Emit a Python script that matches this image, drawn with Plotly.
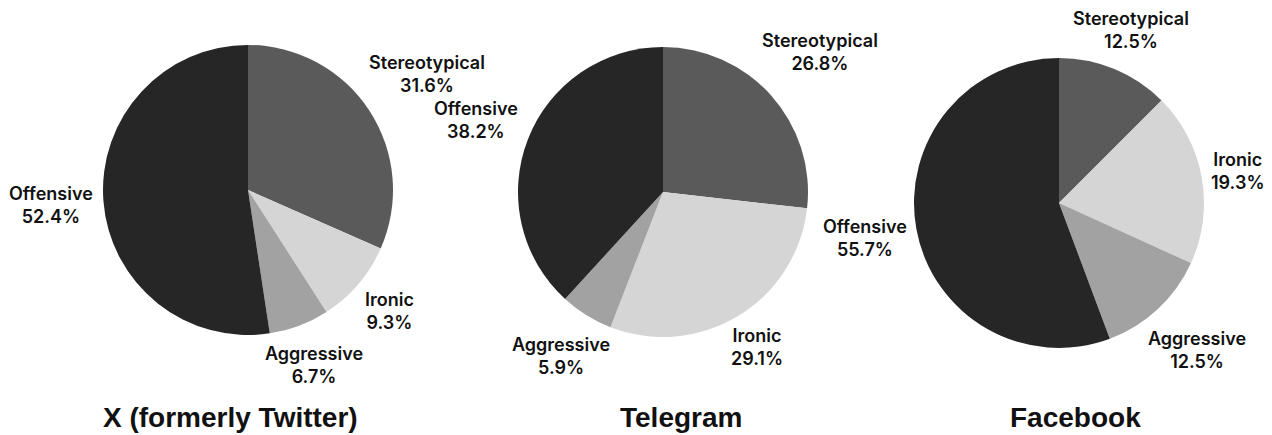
import numpy as np
import plotly.graph_objects as go

# Data
categories = ["Stereotypical", "Ironic", "Aggressive", "Offensive"]
platforms = ["X (formerly Twitter)", "Telegram", "Facebook"]
x_values = [31.6, 9.3, 6.7, 52.4]
telegram_values = [26.8, 29.1, 5.9, 38.2]
facebook_values = [12.5, 19.3, 12.5, 55.7]
all_values = [x_values, telegram_values, facebook_values]

colors = ["#5a5a5a", "#d5d5d5", "#a2a2a2", "#262626"]

OFF = 8                       # page body margin
W, H = 1272 - OFF, 435 - OFF
R = 145  # pie radius in px
centers = [(248, 190), (663, 192), (1059, 203)]   # pie centres in px (page coords)
label_dist = [[1.47, 1.28, 1.29, 1.36],
              [1.45, 1.25, 1.33, 1.38],
              [1.29, 1.25, 1.39, 1.36]]             # label distance / radius
title_x = [230, 681, 1075]
title_y = 417

label_font = dict(family="Inter, Lato, sans-serif", size=18, color="#111111", weight=600)

fig = go.Figure()
annotations = []

for i, (vals, name) in enumerate(zip(all_values, platforms)):
    cx, cy = centers[i][0] - OFF, centers[i][1] - OFF
    fig.add_trace(go.Pie(
        labels        = categories,
        values        = vals,
        sort          = False,
        direction     = "clockwise",
        rotation      = 0,
        textinfo      = "none",
        hoverinfo     = "label+percent",
        marker        = dict(colors=colors, line=dict(width=0)),
        showlegend    = False,
        name          = name,
        domain        = dict(
            x = [(cx - R) / W, (cx + R) / W],
            y = [1 - (cy + R) / H, 1 - (cy - R) / H],
        ),
    ))

    # labels placed at the mid-angle of each slice
    total = sum(vals)
    cum = np.cumsum([0] + vals[:-1])
    for j, (cat, v) in enumerate(zip(categories, vals)):
        ang = 2 * np.pi * (cum[j] + v / 2) / total
        d = label_dist[i][j] * R
        px = cx + d * np.sin(ang)
        py = cy - d * np.cos(ang)
        annotations.append(dict(
            x=px / W, y=1 - py / H, xref="paper", yref="paper",
            text=f"{cat}<br>{v / total * 100:.1f}%",
            showarrow=False, xanchor="center", yanchor="middle",
            font=label_font, align="center",
        ))

    annotations.append(dict(
        x=(title_x[i] - OFF) / W, y=1 - (title_y - OFF) / H, xref="paper", yref="paper",
        text=f"<b>{name}</b>", showarrow=False, xanchor="center", yanchor="middle",
        font=dict(family="Liberation Sans, Arial, sans-serif", size=28, color="#111111"),
    ))

fig.update_layout(
    width         = W,
    height        = H,
    margin        = dict(l=0, r=0, t=0, b=0),
    paper_bgcolor = "white",
    plot_bgcolor  = "white",
    annotations   = annotations,
)

fig.write_html("out.html")
